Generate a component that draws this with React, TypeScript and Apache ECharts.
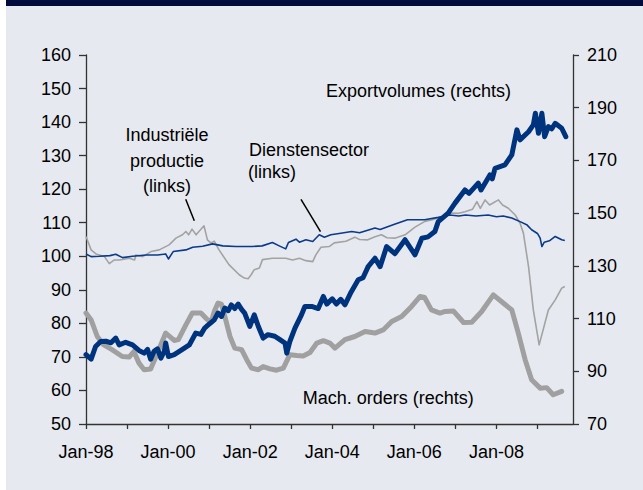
import { useEffect, useRef } from "react";
import * as echarts from "echarts";

// x = months since Jan-98
const xTickMonths = [0, 12, 24, 36, 48, 60, 72, 84, 96, 108, 120, 132];
const xLabelMonths = [0, 24, 48, 72, 96, 120];
const xLabelNames = ["Jan-98", "Jan-00", "Jan-02", "Jan-04", "Jan-06", "Jan-08"];

// Dienstensector (links)
const diensten: [number, number][] = [
  [0, 100.7], [1.5, 99.9], [3.9, 100], [7, 100.2], [8.7, 100.6], [10.7, 99.6], [13.6, 100], [17.6, 100.4],
  [20.9, 100.4], [23.3, 100.7], [24.1, 99.2], [25.5, 101.4], [29.2, 101.9], [31.2, 102.7], [34.1, 103],
  [37, 103.7], [40, 103.1], [43.8, 102.9], [48.6, 102.9], [51.5, 103.1], [54.5, 104.1], [56.5, 103.1],
  [58.4, 102.2], [59.2, 104.1], [61.4, 105.1], [62.4, 104.2], [64.3, 104.9], [66.3, 104.4], [68.2, 106.4],
  [69.7, 105.7], [71.6, 106.4], [74, 106.8], [77.7, 107.4], [80, 107], [84.5, 108.4], [86, 108],
  [90, 109.5], [94, 110.9], [99, 110.9], [103, 111.6], [106.4, 112.3], [109, 112], [111, 112.3],
  [114, 112], [117.6, 112.3], [120, 111.8], [122, 112], [124.5, 111.4], [127.4, 110.1], [129, 109.3],
  [130.3, 107.9], [132, 106.8], [132.8, 105.4], [133.3, 102.9], [134, 104.2], [135.5, 104.6],
  [137.2, 105.9], [139.1, 104.9], [140, 104.7],
];

// Industriële productie (links)
const industrie: [number, number][] = [
  [0, 105.9], [1.5, 101.9], [2.9, 100.7], [5.4, 99.9], [6.8, 97.8], [8.3, 98.9], [9.8, 98.9], [12.7, 99.4],
  [14.2, 98.9], [14.6, 100.4], [16.6, 99.9], [19, 101.4], [21.4, 101.9], [24.3, 103.4], [26.3, 105.4],
  [28.2, 106.4], [29.2, 107.4], [30, 106.4], [31, 108.1], [32.2, 106.4], [34.5, 109.1], [35.5, 104.9],
  [36.5, 104], [37.5, 104.5], [38.9, 101.9], [41.8, 97.5], [44.8, 94.5], [46.3, 93.5], [47.4, 93.3],
  [48.3, 94.5], [49.2, 96], [50.7, 96.5], [51.6, 99], [54.5, 99.4], [58.4, 99.4], [60.4, 98.9],
  [62.4, 99.4], [64.3, 98.7], [66.3, 98.4], [67.2, 100.4], [68.7, 102.7], [71.1, 102.9], [72.6, 104],
  [76, 104.5], [78.6, 105.7], [80, 105], [82.4, 104.9], [84.5, 105.8], [86.4, 106.4], [88, 105.5],
  [90.3, 105.4], [93.3, 106.4], [96.2, 108.7], [99.1, 110.4], [101, 110.8], [103, 111.4], [105, 111.8],
  [106.4, 112.9], [109, 112.8], [110.8, 113.3], [113, 114], [114.3, 116.3], [115.3, 114.3],
  [116.7, 116.8], [118, 115.3], [120.6, 116.8], [121.8, 115.3], [123.5, 114.3], [125.5, 112.3],
  [126.9, 109.9], [127.9, 106.9], [129.4, 96.9], [130.8, 84], [132.5, 73.6], [135.2, 84], [137.2, 87],
  [139.1, 90.5], [140, 91],
];

// Exportvolumes (rechts)
const exportvolumes: [number, number][] = [
  [0, 96.3], [1.5, 94.6], [2.8, 99.4], [4.3, 101.3], [5.8, 101.4], [7.3, 100.8], [8.7, 102.6], [9.7, 100],
  [11.6, 101], [13.6, 100], [15.5, 97.9], [17, 96.9], [18, 98.3], [18.9, 94.6], [19.9, 97.6], [20.9, 98.5],
  [21.9, 95], [22.9, 97.6], [23.3, 100.7], [24.1, 95.6], [25.8, 96.3], [28.2, 98.3], [30.2, 100],
  [32.1, 104.5], [33.6, 104], [34.7, 106.4], [35.4, 107.2], [37.5, 109.5], [38.6, 112.1], [39.6, 110.8],
  [40.6, 114], [41.6, 113], [42.5, 115.2], [43.5, 113.8], [44.5, 115.5], [45.5, 113.5], [46.4, 112.1],
  [47.9, 107], [49.2, 111.4], [50.4, 107], [51.8, 102.6], [53.2, 103.9], [55.2, 103.3], [56.7, 102],
  [58.2, 100.7], [58.7, 96.9], [59.6, 101.3], [61.1, 106.4], [63, 111.4], [64, 114.6], [66, 114.6],
  [67.9, 113.8], [69.4, 118.4], [70.4, 115.5], [72, 117.5], [73.2, 115.5], [74.5, 117.3], [75.7, 115.2],
  [77.5, 120], [79.6, 124.7], [81, 125.5], [82.5, 129.7], [84.5, 132.9], [86, 129.7], [87.9, 137.3],
  [90.3, 134.6], [93.3, 139.9], [96.2, 134.2], [98.2, 140.5], [100, 141], [102, 143], [103, 146.8],
  [105.9, 150], [107.9, 153.8], [110.8, 158.8], [112, 157.5], [114.7, 161.4], [115.5, 158.8],
  [118.1, 164.5], [118.8, 163], [119.6, 167], [122.5, 168.3], [124.5, 172.1], [126, 181.6],
  [126.9, 177.8], [129.4, 180.9], [130.8, 183.5], [131.4, 187.9], [132.3, 180.3], [133.3, 187.9],
  [134.1, 179], [135.2, 182.8], [136.2, 182], [137.2, 184.1], [139.1, 182.2], [140.3, 179],
];

// Mach. orders (rechts)
const machOrders: [number, number][] = [
  [0, 112.1], [1.5, 109.5], [3.3, 103.2], [5.2, 100], [7.6, 98.2], [10.6, 95.6], [12.6, 95.4], [14, 97.5],
  [15.5, 93.1], [17, 90.6], [18.9, 90.9], [20.9, 96.9], [23.3, 104.5], [25.8, 101.7], [27, 102],
  [29.2, 107.6], [31.1, 112.1], [33.6, 112.1], [35.3, 109.8], [36.6, 108.5], [37.5, 112.7], [38.6, 115.9],
  [39.6, 115.5], [40.6, 110.8], [42.1, 103.2], [43.5, 98.8], [45.5, 98.2], [47, 94.4], [48.4, 91.2],
  [50.4, 90.6], [51.8, 91.8], [53.8, 90.9], [55.7, 90.4], [57.7, 91.2], [59.6, 96.3], [61.6, 96],
  [63.5, 95.8], [65.5, 97.1], [67.5, 100.7], [69.4, 101.6], [71.3, 100.7], [72.8, 98.8], [75.7, 102],
  [78.6, 103.2], [81.6, 105.1], [84.5, 104.5], [86.9, 105.7], [89.4, 108.9], [92.3, 110.8], [95.2, 114.6],
  [97.7, 118.4], [99, 118], [101, 113.3], [103.5, 112.1], [105, 112.7], [107.4, 112.9], [110.4, 108.5],
  [112.8, 108.6], [115.7, 112.7], [119.1, 119], [122, 115.9], [124.5, 113.3], [126.4, 104.5],
  [128.4, 94.4], [130.3, 86.8], [132.8, 83.6], [134.7, 83.8], [136.6, 81.1], [139.1, 82.4],
];

const FONT = "Liberation Sans, Arial, sans-serif";
const AXIS_COLOR = "#333333";

export default function App() {
  const ref = useRef<HTMLDivElement>(null);
  useEffect(() => {
    if (!ref.current) return;
    const chart = echarts.init(ref.current, undefined, { renderer: "svg" });
    const textStyle = (text: string, x: number, y: number, align: string = "left") => ({
      type: "text",
      silent: true,
      style: {
        text, x, y, fill: "#000", font: `18px ${FONT}`,
        align, verticalAlign: "middle", textAlign: align, textVerticalAlign: "middle",
      },
    });
    const line = (x1: number, y1: number, x2: number, y2: number) => ({
      type: "line", silent: true,
      shape: { x1, y1, x2, y2 },
      style: { stroke: "#000", lineWidth: 1.5 },
    });
    chart.setOption({
      animation: false,
      backgroundColor: "#ffffff",
      grid: { left: 86, right: 70, top: 55, bottom: 66, containLabel: false },
      textStyle: { fontFamily: FONT },
      graphic: [
        { type: "rect", z: -10, silent: true, shape: { x: 6, y: 0, width: 637, height: 490 }, style: { fill: "#e6e9ef" } },
        { type: "rect", z: -9, silent: true, shape: { x: 6, y: 0, width: 637, height: 6 }, style: { fill: "#000b3d" } },
        textStyle("Exportvolumes (rechts)", 326, 90.5),
        textStyle("Industriële", 167, 135.4, "center"),
        textStyle("productie", 167, 160.6, "center"),
        textStyle("(links)", 167, 185.5, "center"),
        textStyle("Dienstensector", 249, 150.4),
        textStyle("(links)", 248, 172),
        textStyle("Mach. orders (rechts)", 302.7, 398),
        line(185.7, 199.3, 194.3, 220.7),
        line(301, 199.3, 320.5, 231.7),
      ],
      xAxis: {
        type: "value",
        min: 0,
        max: 142.4,
        interval: 12,
        axisLine: { show: true, lineStyle: { color: AXIS_COLOR, width: 1.3 } },
        axisTick: { show: true, length: 5, inside: false, customValues: xTickMonths, lineStyle: { color: AXIS_COLOR, width: 1.3 } },
        axisLabel: {
          customValues: xLabelMonths,
          formatter: (v: number) => {
            const i = xLabelMonths.indexOf(Math.round(v));
            return i >= 0 ? xLabelNames[i] : "";
          },
          color: "#000", fontSize: 18, fontFamily: FONT, margin: 19,
        },
        splitLine: { show: false },
      },
      yAxis: [
        {
          type: "value", min: 50, max: 160, interval: 10, position: "left",
          axisLine: { show: true, lineStyle: { color: AXIS_COLOR, width: 1.3 } },
          axisTick: { show: true, length: 7, lineStyle: { color: AXIS_COLOR, width: 1.3 } },
          axisLabel: { color: "#000", fontSize: 18, fontFamily: FONT, margin: 15 },
          splitLine: { show: false },
        },
        {
          type: "value", min: 70, max: 210, interval: 20, position: "right",
          axisLine: { show: true, lineStyle: { color: AXIS_COLOR, width: 1.3 } },
          axisTick: { show: true, length: 6, lineStyle: { color: AXIS_COLOR, width: 1.3 } },
          axisLabel: { color: "#000", fontSize: 18, fontFamily: FONT, margin: 14 },
          splitLine: { show: false },
        },
      ],
      series: [
        {
          name: "Industriële productie (links)", type: "line", yAxisIndex: 0, data: industrie,
          showSymbol: false, lineStyle: { color: "#a3a3a3", width: 1.6, join: "round" }, z: 2,
        },
        {
          name: "Dienstensector (links)", type: "line", yAxisIndex: 0, data: diensten,
          showSymbol: false, lineStyle: { color: "#0b3a88", width: 1.6, join: "round" }, z: 3,
        },
        {
          name: "Mach. orders (rechts)", type: "line", yAxisIndex: 1, data: machOrders,
          showSymbol: false, lineStyle: { color: "#a0a0a0", width: 5, join: "round", cap: "round" }, z: 4,
        },
        {
          name: "Exportvolumes (rechts)", type: "line", yAxisIndex: 1, data: exportvolumes,
          showSymbol: false, lineStyle: { color: "#00337d", width: 5, join: "round", cap: "round" }, z: 5,
        },
      ],
    });
    return () => chart.dispose();
  }, []);
  return (
    <div
      ref={ref}
      style={{ position: "fixed", left: 0, top: 0, width: 643, height: 490 }}
    />
  );
}
